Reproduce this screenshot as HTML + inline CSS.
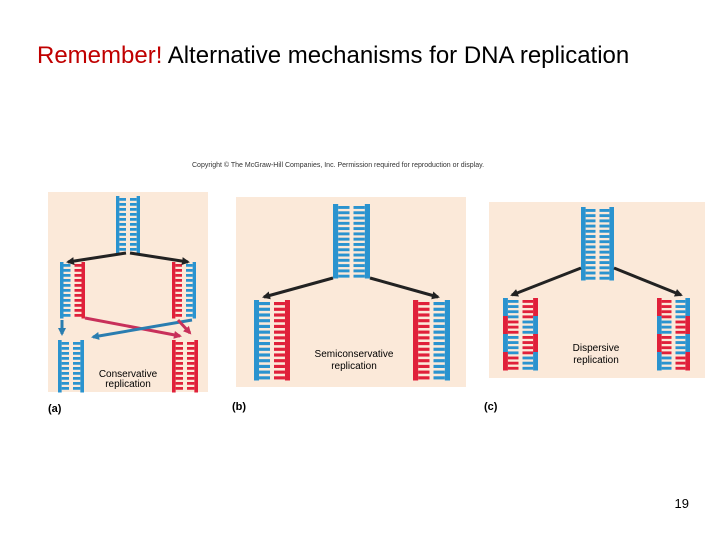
<!DOCTYPE html>
<html><head><style>
body{margin:0;width:720px;height:540px;background:#fff;overflow:hidden;font-family:"Liberation Sans",sans-serif;}
svg{position:absolute;left:0;top:0}
</style></head><body>
<svg id="s" width="720" height="540" xmlns="http://www.w3.org/2000/svg">
<defs>
<marker id="ak" markerWidth="8" markerHeight="8" refX="6" refY="4" orient="auto" markerUnits="userSpaceOnUse"><path d="M0,0 L8,4 L0,8 z" fill="#222"/></marker>
<marker id="ar" markerWidth="8" markerHeight="8" refX="6" refY="4" orient="auto" markerUnits="userSpaceOnUse"><path d="M0,0 L8,4 L0,8 z" fill="#c8305a"/></marker>
<marker id="ab" markerWidth="8" markerHeight="8" refX="6" refY="4" orient="auto" markerUnits="userSpaceOnUse"><path d="M0,0 L8,4 L0,8 z" fill="#2a7db0"/></marker>
</defs>
<text x="37" y="63" font-size="24" fill="#c00000" font-family="Liberation Sans">Remember! <tspan fill="#000">Alternative mechanisms for DNA replication</tspan></text>
<text x="192" y="167" font-size="7" fill="#333">Copyright © The McGraw-Hill Companies, Inc. Permission required for reproduction or display.</text>
<rect x="48" y="192" width="160" height="200" fill="#fbe9d9"/>
<rect x="236" y="197" width="230" height="190" fill="#fbe9d9"/>
<rect x="489" y="202" width="216" height="176" fill="#fbe9d9"/>
<g id="g"></g>
<g stroke="#222" stroke-width="3" fill="none">
<line x1="126" y1="253" x2="68" y2="262" marker-end="url(#ak)"/><line x1="130" y1="253" x2="188" y2="262" marker-end="url(#ak)"/>
<line x1="333" y1="278" x2="264" y2="297" marker-end="url(#ak)"/><line x1="370" y1="278" x2="438" y2="297" marker-end="url(#ak)"/>
<line x1="581" y1="268" x2="512" y2="295" marker-end="url(#ak)"/><line x1="614" y1="268" x2="681" y2="295" marker-end="url(#ak)"/>
</g>
<g stroke-width="3">
<line x1="85" y1="318" x2="180" y2="336" stroke="#c8305a" marker-end="url(#ar)"/>
<line x1="192" y1="320" x2="93" y2="337" stroke="#2a7db0" marker-end="url(#ab)"/>
<line x1="178" y1="320" x2="190" y2="333" stroke="#c8305a" marker-end="url(#ar)"/>
<line x1="62" y1="320" x2="62" y2="334" stroke="#2a7db0" marker-end="url(#ab)"/>
</g>
<text x="128" y="377" font-size="10" text-anchor="middle">Conservative</text>
<text x="128" y="387" font-size="10" text-anchor="middle">replication</text>
<text x="354" y="357" font-size="10" text-anchor="middle">Semiconservative</text>
<text x="354" y="369" font-size="10" text-anchor="middle">replication</text>
<text x="596" y="351" font-size="10" text-anchor="middle">Dispersive</text>
<text x="596" y="363" font-size="10" text-anchor="middle">replication</text>
<text x="48" y="412" font-size="11" font-weight="bold">(a)</text>
<text x="232" y="410" font-size="11" font-weight="bold">(b)</text>
<text x="484" y="410" font-size="11" font-weight="bold">(c)</text>
<text x="689" y="508" font-size="13" text-anchor="end">19</text>
</svg>
<script>
var B='#2a93cf',R='#e0203a',g=document.getElementById('g'),h='';
function L(x,y,w,ht,lc,rc){var n=lc.length,seg=ht/n,bw=w*0.14,sp=Math.max(5,ht/14);
for(var i=0;i<n;i++){h+='<rect x="'+x+'" y="'+(y+i*seg)+'" width="'+bw+'" height="'+(seg+0.5)+'" fill="'+lc[i]+'"/>';
h+='<rect x="'+(x+w-bw)+'" y="'+(y+i*seg)+'" width="'+bw+'" height="'+(seg+0.5)+'" fill="'+rc[i]+'"/>';}
var rw=(w-2*bw)/2-2;
for(var yy=y+2;yy<y+ht-2;yy+=sp){var k=Math.min(n-1,Math.floor((yy-y)/seg));
h+='<rect x="'+(x+bw)+'" y="'+yy+'" width="'+rw+'" height="'+(sp*0.55)+'" fill="'+lc[k]+'"/>';
h+='<rect x="'+(x+w-bw-rw)+'" y="'+yy+'" width="'+rw+'" height="'+(sp*0.55)+'" fill="'+rc[k]+'"/>';}}
L(116,196,24,57,[B],[B]);
L(60,262,25,56,[B],[R]);L(172,262,24,56,[R],[B]);
L(58,340,26,52,[B],[B]);L(172,340,26,52,[R],[R]);
L(333,204,37,74,[B],[B]);
L(254,300,36,80,[B],[R]);L(413,300,37,80,[R],[B]);
L(581,207,33,73,[B],[B]);
L(503,298,35,72,[B,R,B,R],[R,B,R,B]);L(657,298,33,72,[R,B,R,B],[B,R,B,R]);
g.innerHTML=h;
</script>
</body></html>
